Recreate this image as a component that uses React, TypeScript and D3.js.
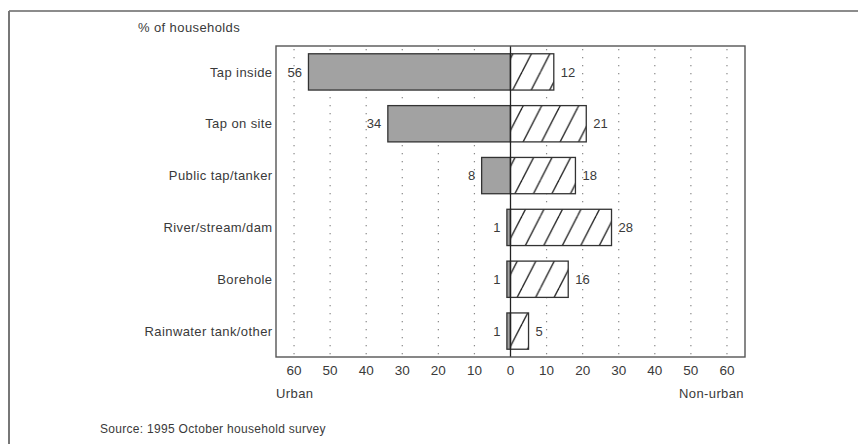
import React from "react";
import * as d3 from "d3";

const categories = [
  "Tap inside",
  "Tap on site",
  "Public tap/tanker",
  "River/stream/dam",
  "Borehole",
  "Rainwater tank/other",
];
const urbanValues = [56, 34, 8, 1, 1, 1];
const nonUrbanValues = [12, 21, 18, 28, 16, 5];
const tickValues = [-60, -50, -40, -30, -20, -10, 0, 10, 20, 30, 40, 50, 60];

const W = 858;
const H = 444;
const plot = { left: 276, right: 745, top: 46, bottom: 357 };
const FONT = "'Liberation Sans', Arial, Helvetica, sans-serif";
const TEXT = "#3a3a3a";

export default function App() {
  const x = d3.scaleLinear().domain([-65, 65]).range([plot.left, plot.right]);
  const y = d3
    .scaleBand<string>()
    .domain(categories)
    .range([plot.top, plot.bottom])
    .paddingInner(0.3)
    .paddingOuter(0.15);
  const bw = y.bandwidth();

  const gridDots = () => {
    const pts: number[] = [];
    for (let yy = plot.top + 3; yy < plot.bottom; yy += 8) pts.push(yy);
    return pts;
  };

  const textStyle: React.CSSProperties = { letterSpacing: "0.4px" };

  return (
    <svg
      width={W}
      height={H}
      style={{ position: "absolute", left: 0, top: 0, background: "#fff" }}
      fontFamily={FONT}
    >
      <defs>
        <pattern id="hatch" patternUnits="userSpaceOnUse" width={18.5} height={36} x={4}>
          <line x1={0} y1={36} x2={18.5} y2={0} stroke="#2a2a2a" strokeWidth={1.4} />
          <line x1={-18.5} y1={36} x2={0} y2={0} stroke="#2a2a2a" strokeWidth={1.4} />
          <line x1={18.5} y1={36} x2={37} y2={0} stroke="#2a2a2a" strokeWidth={1.4} />
        </pattern>
      </defs>
      <rect x={0} y={0} width={W} height={H} fill="#fff" />
      {/* outer frame */}
      <line x1={9} y1={11} x2={W} y2={11} stroke="#666" strokeWidth={1.5} />
      <line x1={9} y1={11} x2={9} y2={H} stroke="#777" strokeWidth={2} />

      <text x={138} y={32} fontSize={13} fill={TEXT} style={textStyle}>
        % of households
      </text>

      {/* dotted grid */}
      {tickValues
        .filter((t) => t !== 0)
        .map((t) => (
          <g key={"g" + t}>
            {gridDots().map((yy) => (
              <rect key={yy} x={x(t) - 0.6} y={yy} width={1.2} height={1.3} fill="#8a8a8a" />
            ))}
          </g>
        ))}

      {/* bars */}
      {categories.map((c, i) => {
        const y0 = y(c) as number;
        const u = urbanValues[i];
        const n = nonUrbanValues[i];
        return (
          <g key={c}>
            <rect
              x={x(-u)}
              y={y0}
              width={x(0) - x(-u)}
              height={bw}
              fill="#a2a2a2"
              stroke="#333"
              strokeWidth={1.3}
            />
            <rect x={x(0)} y={y0} width={x(n) - x(0)} height={bw} fill="#fff" stroke="none" />
            <rect
              x={x(0)}
              y={y0}
              width={x(n) - x(0)}
              height={bw}
              fill="url(#hatch)"
              stroke="#333"
              strokeWidth={1.3}
            />
            <text
              x={x(-u) - 6.5}
              y={y0 + bw / 2}
              dy="0.36em"
              textAnchor="end"
              fontSize={13}
              fill={TEXT}
            >
              {u}
            </text>
            <text
              x={x(n) + 7}
              y={y0 + bw / 2}
              dy="0.36em"
              textAnchor="start"
              fontSize={13}
              fill={TEXT}
            >
              {n}
            </text>
            <text
              x={plot.left - 3.5}
              y={y0 + bw / 2}
              dy="0.36em"
              textAnchor="end"
              fontSize={13}
              fill={TEXT}
              style={textStyle}
            >
              {c}
            </text>
          </g>
        );
      })}

      {/* zero line */}
      <line x1={x(0)} y1={plot.top} x2={x(0)} y2={plot.bottom} stroke="#222" strokeWidth={1.3} />

      {/* plot border */}
      <rect
        x={plot.left}
        y={plot.top}
        width={plot.right - plot.left}
        height={plot.bottom - plot.top}
        fill="none"
        stroke="#555"
        strokeWidth={1.4}
      />

      {/* tick labels */}
      {tickValues.map((t) => (
        <text key={"t" + t} x={x(t)} y={375} textAnchor="middle" fontSize={13.5} fill={TEXT}>
          {Math.abs(t)}
        </text>
      ))}

      <text x={plot.left} y={398} fontSize={13} fill={TEXT} style={textStyle}>
        Urban
      </text>
      <text x={plot.right - 1} y={398} fontSize={13} fill={TEXT} textAnchor="end" style={textStyle}>
        Non-urban
      </text>

      <text x={100} y={433} fontSize={12} fill={TEXT} style={{ letterSpacing: "0.3px" }}>
        Source: 1995 October household survey
      </text>
    </svg>
  );
}
